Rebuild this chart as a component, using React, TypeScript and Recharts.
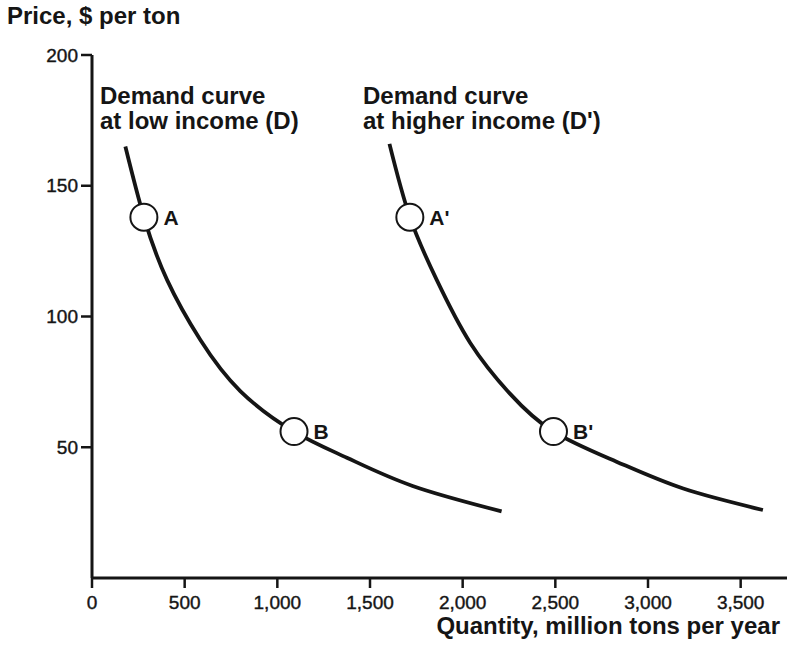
import React from 'react';
import { ComposedChart, Line, Scatter, XAxis, YAxis, LabelList } from 'recharts';

// Demand curve at low income (D)
const lowIncomeQuantity = [180, 280, 405, 585, 800, 1090, 1375, 1730, 2210];
const lowIncomePrice = [165, 138, 114, 91, 71.5, 56, 46, 35.2, 25.5];
// Demand curve at higher income (D')
const highIncomeQuantity = [1605, 1715, 1860, 2040, 2255, 2490, 2830, 3190, 3620];
const highIncomePrice = [166, 138, 114, 90, 70.5, 56, 44.5, 34.2, 26];
// Marked points
const pointNames = ['A', 'B', "A'", "B'"];
const pointQuantity = [280, 1090, 1715, 2490];
const pointPrice = [138, 56, 138, 56];

const xTicks = [0, 500, 1000, 1500, 2000, 2500, 3000, 3500];
const yTicks = [50, 100, 150, 200];

const lowData = lowIncomeQuantity.map((q, i) => ({ q, p: lowIncomePrice[i] }));
const highData = highIncomeQuantity.map((q, i) => ({ q, p: highIncomePrice[i] }));
const pointData = pointNames.map((name, i) => ({ name, q: pointQuantity[i], p: pointPrice[i] }));

const FONT = '"Liberation Sans", Arial, Helvetica, sans-serif';
const INK = '#151515';

const fmt = (v: number) => v.toLocaleString('en-US');

const textStyle: React.CSSProperties = {
  position: 'absolute',
  fontFamily: FONT,
  fontWeight: 'bold',
  fontSize: 24,
  lineHeight: '25px',
  color: INK,
  whiteSpace: 'nowrap',
};

const tickStyle = { fill: INK, fontSize: 19, fontFamily: FONT, stroke: INK, strokeWidth: 0.4 };

export default function App() {
  return (
    <div style={{ position: 'absolute', left: 0, top: 0, width: 790, height: 647, background: '#fff' }}>
      <ComposedChart
        width={790}
        height={647}
        margin={{ top: 55, right: 3, bottom: 39, left: 32 }}
      >
        <XAxis
          type="number"
          dataKey="q"
          domain={[0, 3750]}
          ticks={xTicks}
          tickFormatter={fmt}
          height={30}
          axisLine={{ stroke: INK, strokeWidth: 3 }}
          tickLine={{ stroke: INK, strokeWidth: 2.5 }}
          tickSize={10}
          tickMargin={8}
          tick={tickStyle}
          allowDataOverflow
        />
        <YAxis
          type="number"
          dataKey="p"
          domain={[0, 200]}
          ticks={yTicks}
          width={60}
          axisLine={{ stroke: INK, strokeWidth: 3 }}
          tickLine={{ stroke: INK, strokeWidth: 2.5 }}
          tickSize={11}
          tickMargin={3}
          tick={tickStyle}
          allowDataOverflow
        />
        <Line
          data={lowData}
          dataKey="p"
          type="natural"
          stroke={INK}
          strokeWidth={3.8}
          dot={false}
          activeDot={false}
          isAnimationActive={false}
        />
        <Line
          data={highData}
          dataKey="p"
          type="natural"
          stroke={INK}
          strokeWidth={3.8}
          dot={false}
          activeDot={false}
          isAnimationActive={false}
        />
        <Scatter
          data={pointData}
          dataKey="p"
          isAnimationActive={false}
          shape={(props: any) => (
            <circle cx={props.cx} cy={props.cy} r={13.5} fill="#fff" stroke={INK} strokeWidth={2} />
          )}
        >
          <LabelList
            dataKey="name"
            position="right"
            offset={15}
            style={{ fill: INK, fontSize: 21, fontWeight: 'bold', fontFamily: FONT }}
          />
        </Scatter>
      </ComposedChart>
      <div style={{ ...textStyle, left: 7, top: 3 }}>Price, $ per ton</div>
      <div style={{ ...textStyle, left: 100, top: 83 }}>
        Demand curve
        <br />
        at low income (D)
      </div>
      <div style={{ ...textStyle, left: 363, top: 83 }}>
        Demand curve
        <br />
        at higher income (D')
      </div>
      <div style={{ ...textStyle, right: 10, top: 613 }}>Quantity, million tons per year</div>
    </div>
  );
}
